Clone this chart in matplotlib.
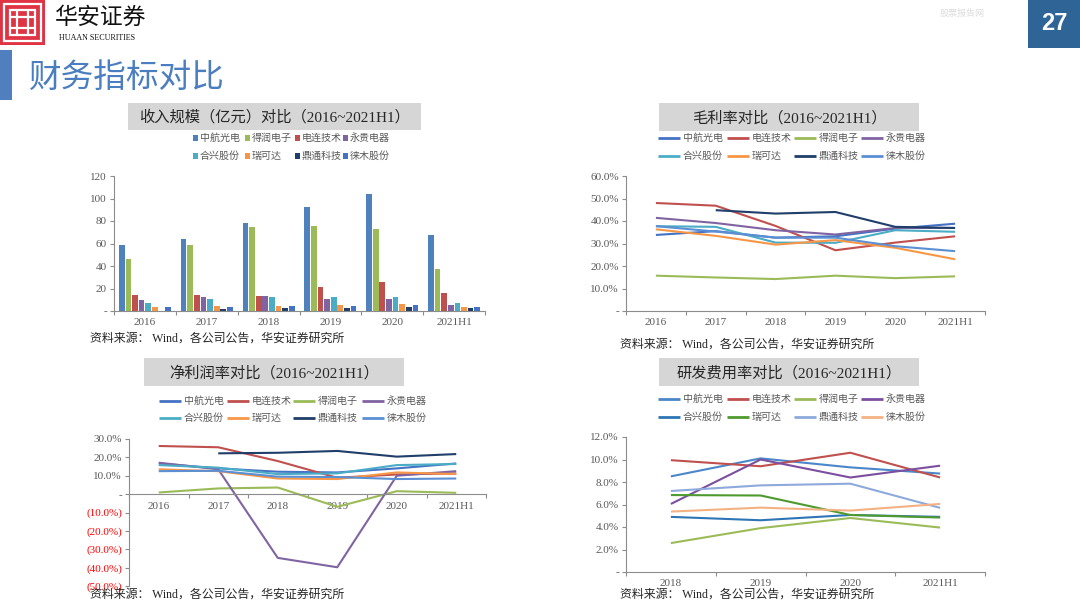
import matplotlib
matplotlib.use('Agg')
import matplotlib.pyplot as plt
import numpy as np
from matplotlib.patches import Rectangle

W, H = 1080, 607
CJK = ['Noto Sans CJK SC', 'DejaVu Sans']
SER = ['Liberation Serif', 'Noto Sans CJK SC']

years6 = ['2016', '2017', '2018', '2019', '2020', '2021H1']
years4 = ['2018', '2019', '2020', '2021H1']

# ---- Revenue (亿元) ----
rev_companies = ['中航光电', '得润电子', '电连技术', '永贵电器', '合兴股份', '瑞可达', '鼎通科技', '徕木股份']
rev_colors = ['#4F81BD', '#9BBB59', '#C0504D', '#8064A2', '#4BACC6', '#F79646', '#1F3F6A', '#4472C4']
rev_values = [
    [59.0, 64.3, 78.6, 92.3, 103.9, 67.3],
    [46.0, 59.0, 75.0, 75.3, 73.2, 37.5],
    [14.3, 14.6, 13.7, 21.7, 26.2, 16.4],
    [9.8, 12.8, 13.4, 11.0, 11.0, 5.1],
    [7.4, 11.0, 12.2, 12.2, 12.2, 7.1],
    [3.3, 4.5, 4.8, 5.4, 6.3, 3.9],
    [np.nan, 1.5, 2.4, 2.7, 3.9, 3.0],
    [3.6, 3.9, 4.8, 4.8, 5.7, 3.6],
]

# ---- line charts: shared company order ----
line_companies = ['中航光电', '电连技术', '得润电子', '永贵电器', '合兴股份', '瑞可达', '鼎通科技', '徕木股份']
line_colors = ['#4472C4', '#C0504D', '#9BBB59', '#8064A2', '#4BACC6', '#F79646', '#1F3F6A', '#5B8FD3']

gross_values = [
    [33.8, 35.5, 32.6, 33.2, 36.6, 38.8],
    [48.0, 46.8, 37.8, 27.0, 30.4, 33.2],
    [15.7, 14.9, 14.2, 15.7, 14.6, 15.4],
    [41.4, 39.1, 35.9, 34.0, 36.9, 36.9],
    [37.7, 37.4, 30.4, 30.3, 35.9, 35.2],
    [36.3, 33.4, 29.5, 31.5, 28.1, 23.0],
    [np.nan, 44.8, 43.3, 44.0, 37.4, 36.9],
    [37.7, 35.3, 32.6, 32.6, 28.8, 26.6],
]

net_values = [
    [16.7, 14.0, 12.2, 11.8, 14.0, 16.7],
    [26.2, 25.5, 18.0, 8.9, 10.7, 11.3],
    [0.9, 3.1, 3.6, -6.9, 1.6, 0.7],
    [17.1, 13.5, -34.7, -39.8, 10.0, 12.5],
    [15.8, 14.4, 10.9, 11.3, 15.8, 16.4],
    [13.5, 12.5, 8.5, 8.2, 11.8, 10.9],
    [np.nan, 22.2, 22.5, 23.5, 20.4, 21.8],
    [12.5, 12.7, 9.5, 9.3, 8.2, 8.5],
]

rd_colors = ['#4A86C8', '#C0504D', '#9BBB59', '#7B4FA0', '#2E75B6', '#4E9A2E', '#8EA9DB', '#F4B183']
rd_values = [
    [8.5, 10.1, 9.3, 8.75],
    [9.94, 9.4, 10.6, 8.4],
    [2.57, 3.9, 4.8, 3.95],
    [6.05, 10.0, 8.4, 9.45],
    [4.9, 4.6, 5.07, 4.9],
    [6.84, 6.8, 5.07, 4.84],
    [7.2, 7.7, 7.85, 5.7],
    [5.37, 5.72, 5.46, 6.05],
]

SOURCE = '资料来源： Wind，各公司公告，华安证券研究所'
AX_COLOR = '#8C8C8C'
TXT_COLOR = '#595959'

fig = plt.figure(figsize=(W / 100, H / 100), dpi=100)
fig.patch.set_facecolor('white')


def rect(l, t, r, b):
    return [l / W, 1 - b / H, (r - l) / W, (b - t) / H]


def ftext(x, y, s, **kw):
    return fig.text(x / W, 1 - y / H, s, **kw)


def fbox(l, t, r, b, color, z=0):
    fig.add_artist(Rectangle((l / W, 1 - b / H), (r - l) / W, (b - t) / H,
                             transform=fig.transFigure, facecolor=color,
                             edgecolor='none', zorder=z))


def fline(x0, y0, x1, y1, color, lw, z=3):
    fig.add_artist(plt.Line2D([x0 / W, x1 / W], [1 - y0 / H, 1 - y1 / H],
                              transform=fig.transFigure, color=color, lw=lw,
                              solid_capstyle='butt', zorder=z))


def draw_legend(cols_x, rows_y, labels, colors, kind):
    for i, (lab, col) in enumerate(zip(labels, colors)):
        cx = cols_x[i % 4]
        cy = rows_y[i // 4]
        if kind == 'bar':
            fbox(cx, cy - 2.7, cx + 5.4, cy + 2.7, col, z=3)
            tx = cx + 7
        else:
            fline(cx, cy, cx + 22, cy, col, 2.0)
            tx = cx + 25
        ftext(tx, cy, lab, ha='left', va='center', fontsize=7.2,
              color=TXT_COLOR, family=CJK)


def style_axes(ax, n):
    for s in ['top', 'right']:
        ax.spines[s].set_visible(False)
    for s in ['left', 'bottom']:
        ax.spines[s].set_color(AX_COLOR)
        ax.spines[s].set_linewidth(0.8)
    ax.set_xlim(-0.5, n - 0.5)
    ax.set_xticks(np.arange(-0.5, n, 1.0))
    ax.set_xticklabels([])
    ax.tick_params(axis='x', which='major', length=3, color=AX_COLOR, direction='out')
    ax.tick_params(axis='y', which='major', length=3, color=AX_COLOR, direction='out',
                   labelsize=8, labelcolor=TXT_COLOR, pad=2)
    ax.set_facecolor('none')


def set_cats(ax, labels, pad):
    ax.set_xticks(np.arange(len(labels)), minor=True)
    ax.set_xticklabels(labels, minor=True)
    ax.tick_params(axis='x', which='minor', length=0, pad=pad,
                   labelsize=8, labelcolor=TXT_COLOR)
    for t in ax.get_xticklabels(minor=True):
        t.set_fontfamily(SER)


def ylabels(ax, ticks, fmt, neg_red=False):
    ax.set_yticks(ticks)
    ax.set_yticklabels([fmt(v) for v in ticks])
    for t, v in zip(ax.get_yticklabels(), ticks):
        t.set_fontfamily(SER)
        if neg_red and v < 0:
            t.set_color('#FF0000')


def pct(v):
    if abs(v) < 1e-9:
        return '-'
    if v < 0:
        return f'({abs(v):.1f}%)'
    return f'{v:.1f}%'


def title_box(l, t, r, b, s):
    fbox(l, t, r, b, '#D6D6D6')
    ftext((l + r) / 2, (t + b) / 2 + 1, s, ha='center', va='center',
          fontsize=11, color='#262626', family=SER)


def source(x, y):
    ftext(x, y, SOURCE, ha='left', va='center', fontsize=8.6, color='#262626', family=SER)


# ================= Chart 1: revenue bars =================
ax1 = fig.add_axes(rect(114, 176, 485, 311))
style_axes(ax1, 6)
x = np.arange(6)
period = 0.107
for k, (vals, col) in enumerate(zip(rev_values, rev_colors)):
    ax1.bar(x + (k - 3.5) * period, vals, width=0.092, color=col, linewidth=0)
ax1.set_ylim(0, 120)
ylabels(ax1, [0, 20, 40, 60, 80, 100, 120], lambda v: '-' if v == 0 else f'{v:d}')
set_cats(ax1, years6, 5)
draw_legend([193, 245, 295, 343], [138, 156], rev_companies, rev_colors, 'bar')
title_box(128, 103, 421, 130, '收入规模（亿元）对比（2016~2021H1）')
source(90, 339)


def line_chart(box, values, colors, cats, ylim, ticks, neg_red, zero_axis=False, pad=5):
    ax = fig.add_axes(rect(*box))
    style_axes(ax, len(cats))
    xx = np.arange(len(cats))
    for vals, col in zip(values, colors):
        ax.plot(xx, vals, color=col, lw=1.5, solid_capstyle='butt')
    ax.set_ylim(*ylim)
    ylabels(ax, ticks, pct, neg_red)
    if zero_axis:
        ax.spines['bottom'].set_position(('data', 0))
    set_cats(ax, cats, pad)
    return ax


# ================= Chart 2: gross margin =================
line_chart((626, 176, 985, 311), gross_values, line_colors, years6, (0, 60),
           [0, 10, 20, 30, 40, 50, 60], False)
draw_legend([658, 727, 794, 861], [138, 156], line_companies, line_colors, 'line')
title_box(659, 103, 919, 131, '毛利率对比（2016~2021H1）')
source(620, 345)

# ================= Chart 3: net margin =================
line_chart((129, 439, 486, 586), net_values, line_colors, years6, (-50, 30),
           [-50, -40, -30, -20, -10, 0, 10, 20, 30], True, zero_axis=True, pad=6)
draw_legend([159, 227, 293, 362], [401, 418], line_companies, line_colors, 'line')
title_box(144, 358, 404, 386, '净利润率对比（2016~2021H1）')
source(90, 595)

# ================= Chart 4: R&D ratio =================
line_chart((626, 437, 985, 572), rd_values, rd_colors, years4, (0, 12),
           [0, 2, 4, 6, 8, 10, 12], False)
draw_legend([658, 727, 794, 861], [399, 417], line_companies, rd_colors, 'line')
title_box(659, 358, 919, 386, '研发费用率对比（2016~2021H1）')
source(620, 595)

# ================= Header =================
fbox(0, 0, 45, 45, '#E03444', z=2)
lw_logo = 1.6
for (l, t, r, b) in [(4, 4, 41, 41), (10, 10, 35, 35)]:
    fig.add_artist(Rectangle((l / W, 1 - b / H), (r - l) / W, (b - t) / H,
                             transform=fig.transFigure, facecolor='none',
                             edgecolor='white', lw=lw_logo, zorder=3))
for xv in (17, 28):
    fline(xv, 10, xv, 35, 'white', lw_logo)
for yv in (17, 28):
    fline(10, yv, 35, yv, 'white', lw_logo)
ftext(55, 17, '华安证券', ha='left', va='center', fontsize=16.5, color='#111111', family=CJK)
ftext(59, 38, 'HUAAN SECURITIES', ha='left', va='center', fontsize=5.8, color='#111111',
      family=['Liberation Serif'])
fbox(0, 50, 12, 100, '#4F7FBF', z=2)
ftext(29, 78, '财务指标对比', ha='left', va='center', fontsize=23.5, color='#4A7EC0', family=CJK)
ftext(940, 13, '股票报告网', ha='left', va='center', fontsize=6.5, color='#DDDDDD', family=CJK)
fbox(1028, 0, 1080, 48, '#2F6496', z=2)
ftext(1054, 24, '27', ha='center', va='center', fontsize=17, color='white',
      fontweight='bold', family=['Liberation Sans'], zorder=4)

fig.savefig('out.png', dpi=100, facecolor='white')
